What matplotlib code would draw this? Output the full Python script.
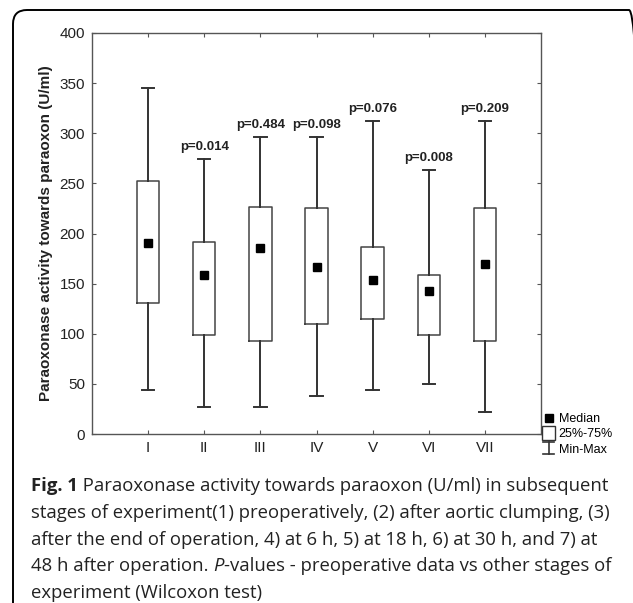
import matplotlib
matplotlib.use("Agg")
import matplotlib.pyplot as plt
from matplotlib.patches import FancyBboxPatch, Rectangle
from matplotlib.lines import Line2D
from matplotlib.legend_handler import HandlerBase
from matplotlib.offsetbox import TextArea, HPacker, AnchoredOffsetbox

plt.rcParams['font.family'] = ['Liberation Sans', 'DejaVu Sans']

# data
stages = ["I", "II", "III", "IV", "V", "VI", "VII"]
medians = [191, 159, 186, 167, 154, 143, 170]
q1 = [131, 99, 93, 110, 115, 99, 93]
q3 = [252, 192, 226, 225, 187, 159, 225]
mins = [44, 27, 27, 38, 44, 50, 22]
maxs = [345, 274, 296, 296, 312, 263, 312]
pvals = [None, "p=0.014", "p=0.484", "p=0.098", "p=0.076", "p=0.008", "p=0.209"]

caption = [
    [("Fig. 1", "bold", "normal"), (" Paraoxonase activity towards paraoxon (U/ml) in subsequent", "normal", "normal")],
    [("stages of experiment(1) preoperatively, (2) after aortic clumping, (3)", "normal", "normal")],
    [("after the end of operation, 4) at 6 h, 5) at 18 h, 6) at 30 h, and 7) at", "normal", "normal")],
    [("48 h after operation. ", "normal", "normal"), ("P", "normal", "italic"),
     ("-values - preoperative data vs other stages of", "normal", "normal")],
    [("experiment (Wilcoxon test)", "normal", "normal")],
]

fig = plt.figure(figsize=(6.33, 6.03), dpi=100)
ax = fig.add_axes([92 / 633, 1 - 434 / 603, 449 / 633, 401 / 603])

pos = list(range(1, len(stages) + 1))
stats = []
for i in range(len(stages)):
    stats.append(dict(med=medians[i], q1=q1[i], q3=q3[i], whislo=mins[i], whishi=maxs[i], fliers=[]))

col = "#333333"
ax.bxp(stats, positions=pos, widths=0.4, capwidths=0.22, showfliers=False,
       boxprops=dict(color="#444444", linewidth=1.1),
       whiskerprops=dict(color=col, linewidth=1.4),
       capprops=dict(color=col, linewidth=1.4),
       medianprops=dict(visible=False))
ax.plot(pos, medians, 's', color="black", markersize=5.5, linestyle="none")

for x, top, p in zip(pos, maxs, pvals):
    if p:
        ax.annotate(p, (x, top), xytext=(0, 9), textcoords="offset points",
                    ha="center", va="center", fontsize=9.5, fontweight="bold", color="#222222")

ax.set_xlim(0, 8)
ax.set_ylim(0, 400)
ax.set_xticks(pos)
ax.set_xticklabels(stages)
ax.set_yticks(range(0, 401, 50))
ax.tick_params(direction="in", top=True, right=True, labelsize=11, length=3,
               colors="#555555", labelcolor="#222222", pad=5)
for s in ax.spines.values():
    s.set_color("#555555")
    s.set_linewidth(1.0)
ax.set_ylabel("Paraoxonase activity towards paraoxon (U/ml)", fontsize=11,
              fontweight="bold", color="#222222", labelpad=5)


class MinMaxHandler(HandlerBase):
    def create_artists(self, legend, orig, xd, yd, w, h, fs, trans):
        cx = xd + w / 2
        lines = [
            Line2D([cx, cx], [yd - 1, yd + h + 1]),
            Line2D([cx - 4, cx + 4], [yd - 1, yd - 1]),
            Line2D([cx - 4, cx + 4], [yd + h + 1, yd + h + 1]),
        ]
        for l in lines:
            l.set_color("#333333")
            l.set_linewidth(1.2)
            l.set_transform(trans)
        return lines


class BoxHandler(HandlerBase):
    def create_artists(self, legend, orig, xd, yd, w, h, fs, trans):
        r = Rectangle((xd + w / 2 - 5, yd - 2), 10, h + 4, facecolor="white",
                      edgecolor="#333333", linewidth=1.0, transform=trans)
        return [r]


h_med = Line2D([], [], marker="s", color="black", markersize=5.5, linestyle="none")
h_box = Rectangle((0, 0), 1, 1)
h_mm = Line2D([], [])
ax.legend([h_med, h_box, h_mm], ["Median", "25%-75%", "Min-Max"],
          handler_map={Rectangle: BoxHandler(), h_mm: MinMaxHandler()},
          loc="lower left", bbox_to_anchor=(1.0, -0.06), frameon=False,
          fontsize=9, handlelength=0.8, handletextpad=0.4, labelspacing=0.25,
          borderpad=0, borderaxespad=0.2)

# caption, one packed row per line
for k, line in enumerate(caption):
    parts = [TextArea(t, textprops=dict(fontsize=13.3, fontweight=w, fontstyle=st,
                                        family=["Open Sans", "DejaVu Sans"], color="#222222"))
             for t, w, st in line]
    row = HPacker(children=parts, pad=0, sep=0)
    box = AnchoredOffsetbox(loc="center left", child=row, pad=0, borderpad=0, frameon=False,
                            bbox_to_anchor=(31 / 633, 1 - (486 + 26.8 * k) / 603),
                            bbox_transform=fig.transFigure)
    fig.add_artist(box)

# card frame: rounded top-left corner, open to the right and bottom
frame = FancyBboxPatch((0.13, -0.5), 6.30, 5.93 + 0.5,
                       boxstyle="round,pad=0,rounding_size=0.14",
                       facecolor="none", edgecolor="black", linewidth=1.4,
                       transform=fig.dpi_scale_trans)
fig.add_artist(frame)

fig.savefig("out.png", dpi=100)
